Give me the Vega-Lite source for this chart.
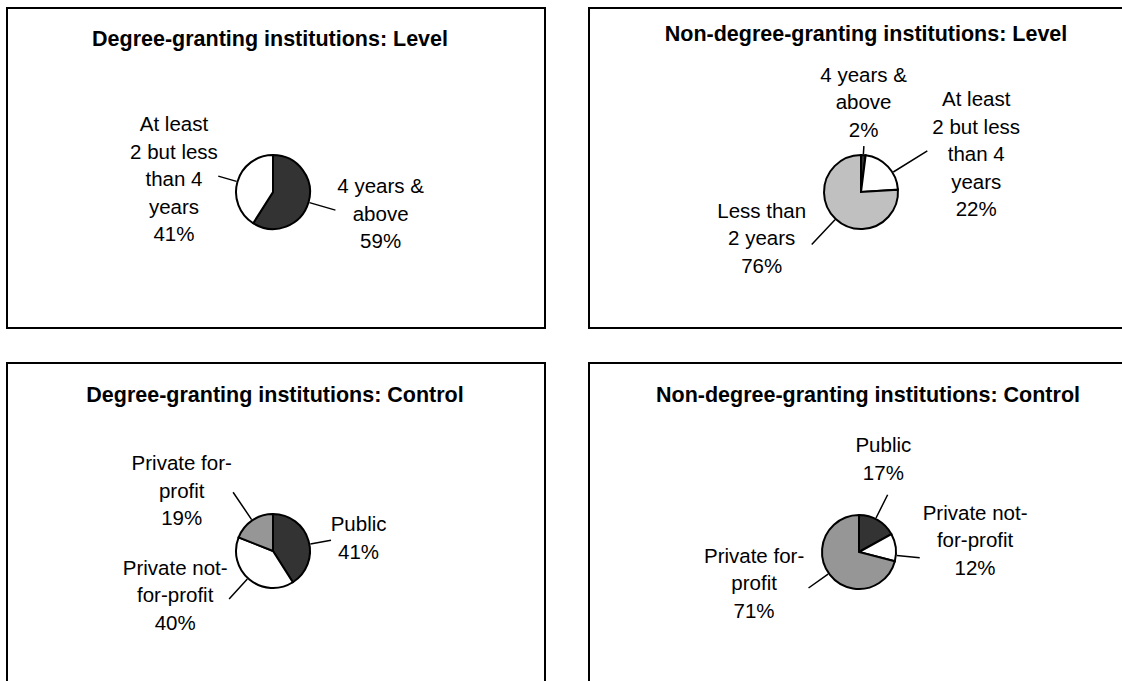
{
  "$schema": "https://vega.github.io/schema/vega-lite/v6.json",
  "usermeta": {"embedOptions": {"actions": false}},
  "background": "white",
  "padding": {"left": 6, "top": 7, "right": 0, "bottom": 0},
  "columns": 2,
  "spacing": {"row": 35, "column": 44},
  "bounds": "flush",
  "config": {
    "view": {"stroke": "black", "strokeWidth": 2},
    "style": {"view": {"stroke": "black", "strokeWidth": 2}},
    "font": "Liberation Sans",
    "text": {"font": "Liberation Sans", "fontSize": 20.5, "lineHeight": 27.5, "lineBreak": "\n", "align": "center", "baseline": "middle", "color": "black"},
    "title": {"font": "Liberation Sans", "fontSize": 21.5, "fontWeight": "bold", "color": "black", "anchor": "middle"}
  },
  "concat": [
    {
      "title": {"text": "Degree-granting institutions: Level", "offset": -42, "dx": -6},
      "width": 538, "height": 320,
      "view": {"stroke": "black", "strokeWidth": 2},
      "data": {"values": [
        {"cat": "4 years & above", "pct": 59, "order": 1, "label": "4 years &\nabove\n59%"},
        {"cat": "At least 2 but less than 4 years", "pct": 41, "order": 2, "label": "At least\n2 but less\nthan 4\nyears\n41%"}
      ]},
      "transform": [
        {"stack": "pct", "groupby": [], "sort": [{"field": "order", "order": "ascending"}], "as": ["s0", "s1"]},
        {"fold": ["s0", "s1"], "as": ["k", "v"]},
        {"aggregate": [{"op": "mean", "field": "v", "as": "mid"}], "groupby": ["cat", "pct", "order", "label"]}
      ],
      "layer": [
        {"mark": {"type": "arc", "outerRadius": 37, "stroke": "black", "strokeWidth": 2, "xOffset": -3, "yOffset": 24},
         "encoding": {
           "theta": {"field": "pct", "type": "quantitative", "stack": true, "scale": {"domain": [0, 100]}},
           "order": {"field": "order", "type": "quantitative"},
           "color": {"field": "cat", "type": "nominal", "legend": null, "scale": {"domain": ["4 years & above", "At least 2 but less than 4 years", "Less than 2 years", "Public", "Private not-for-profit", "Private for-profit"], "range": ["#333333", "#ffffff", "#c0c0c0", "#333333", "#ffffff", "#969696"]}}
         }},
        {"transform": [{"filter": "datum.order == 1"}],
         "layer": [
           {"mark": {"type": "arc", "innerRadius": 38, "outerRadius": 65, "filled": false, "stroke": "black", "strokeWidth": 1.5, "xOffset": -3, "yOffset": 24},
            "encoding": {"theta": {"field": "mid", "type": "quantitative", "stack": null}, "theta2": {"field": "mid"}}},
           {"mark": {"type": "text", "radius": 110, "dx": 2, "dy": -35.5, "xOffset": -3, "yOffset": 24},
            "encoding": {"theta": {"field": "mid", "type": "quantitative", "stack": null}, "text": {"field": "label", "type": "nominal"}}}
         ]},
        {"transform": [{"filter": "datum.order == 2"}],
         "layer": [
           {"mark": {"type": "arc", "innerRadius": 38, "outerRadius": 57, "filled": false, "stroke": "black", "strokeWidth": 1.5, "xOffset": -3, "yOffset": 24},
            "encoding": {"theta": {"field": "mid", "type": "quantitative", "stack": null}, "theta2": {"field": "mid"}}},
           {"mark": {"type": "text", "radius": 100, "dx": -3, "dy": -39, "xOffset": -3, "yOffset": 24},
            "encoding": {"theta": {"field": "mid", "type": "quantitative", "stack": null}, "text": {"field": "label", "type": "nominal"}}}
         ]}
      ]
    },
    {
      "title": {"text": "Non-degree-granting institutions: Level", "offset": -37, "dx": -3},
      "width": 560, "height": 320,
      "view": {"stroke": "black", "strokeWidth": 2},
      "data": {"values": [
        {"cat": "4 years & above", "pct": 2, "order": 1, "label": "4 years &\nabove\n2%"},
        {"cat": "At least 2 but less than 4 years", "pct": 22, "order": 2, "label": "At least\n2 but less\nthan 4\nyears\n22%"},
        {"cat": "Less than 2 years", "pct": 76, "order": 3, "label": "Less than\n2 years\n76%"}
      ]},
      "transform": [
        {"stack": "pct", "groupby": [], "sort": [{"field": "order", "order": "ascending"}], "as": ["s0", "s1"]},
        {"fold": ["s0", "s1"], "as": ["k", "v"]},
        {"aggregate": [{"op": "mean", "field": "v", "as": "mid"}], "groupby": ["cat", "pct", "order", "label"]}
      ],
      "layer": [
        {"mark": {"type": "arc", "outerRadius": 37, "stroke": "black", "strokeWidth": 2, "xOffset": -8, "yOffset": 24},
         "encoding": {
           "theta": {"field": "pct", "type": "quantitative", "stack": true, "scale": {"domain": [0, 100]}},
           "order": {"field": "order", "type": "quantitative"},
           "color": {"field": "cat", "type": "nominal", "legend": null, "scale": {"domain": ["4 years & above", "At least 2 but less than 4 years", "Less than 2 years", "Public", "Private not-for-profit", "Private for-profit"], "range": ["#333333", "#ffffff", "#c0c0c0", "#333333", "#ffffff", "#969696"]}}
         }},
        {"transform": [{"filter": "datum.order == 1"}],
         "layer": [
           {"mark": {"type": "arc", "innerRadius": 38, "outerRadius": 46, "filled": false, "stroke": "black", "strokeWidth": 1.5, "xOffset": -8, "yOffset": 24},
            "encoding": {"theta": {"field": "mid", "type": "quantitative", "stack": null}, "theta2": {"field": "mid"}}},
           {"mark": {"type": "text", "radius": 89, "dx": -3, "dy": -27.5, "xOffset": -8, "yOffset": 24},
            "encoding": {"theta": {"field": "mid", "type": "quantitative", "stack": null}, "text": {"field": "label", "type": "nominal"}}}
         ]},
        {"transform": [{"filter": "datum.order == 2"}],
         "layer": [
           {"mark": {"type": "arc", "innerRadius": 38, "outerRadius": 78, "filled": false, "stroke": "black", "strokeWidth": 1.5, "xOffset": -8, "yOffset": 24, "thetaOffset": 0.2, "theta2Offset": 0.2},
            "encoding": {"theta": {"field": "mid", "type": "quantitative", "stack": null}, "theta2": {"field": "mid"}}},
           {"mark": {"type": "text", "radius": 121, "dx": 27, "dy": -9, "xOffset": -8, "yOffset": 24},
            "encoding": {"theta": {"field": "mid", "type": "quantitative", "stack": null}, "text": {"field": "label", "type": "nominal"}}}
         ]},
        {"transform": [{"filter": "datum.order == 3"}],
         "layer": [
           {"mark": {"type": "arc", "innerRadius": 38, "outerRadius": 72, "filled": false, "stroke": "black", "strokeWidth": 1.5, "xOffset": -8, "yOffset": 24},
            "encoding": {"theta": {"field": "mid", "type": "quantitative", "stack": null}, "theta2": {"field": "mid"}}},
           {"mark": {"type": "text", "radius": 110, "dx": -24, "dy": -60.5, "xOffset": -8, "yOffset": 24},
            "encoding": {"theta": {"field": "mid", "type": "quantitative", "stack": null}, "text": {"field": "label", "type": "nominal"}}}
         ]}
      ]
    },
    {
      "title": {"text": "Degree-granting institutions: Control", "offset": -43, "dx": -1},
      "width": 538, "height": 320,
      "view": {"stroke": "black", "strokeWidth": 2},
      "data": {"values": [
        {"cat": "Public", "pct": 41, "order": 1, "label": "Public\n41%"},
        {"cat": "Private not-for-profit", "pct": 40, "order": 2, "label": "Private not-\nfor-profit\n40%"},
        {"cat": "Private for-profit", "pct": 19, "order": 3, "label": "Private for-\nprofit\n19%"}
      ]},
      "transform": [
        {"stack": "pct", "groupby": [], "sort": [{"field": "order", "order": "ascending"}], "as": ["s0", "s1"]},
        {"fold": ["s0", "s1"], "as": ["k", "v"]},
        {"aggregate": [{"op": "mean", "field": "v", "as": "mid"}], "groupby": ["cat", "pct", "order", "label"]}
      ],
      "layer": [
        {"mark": {"type": "arc", "outerRadius": 37, "stroke": "black", "strokeWidth": 2, "xOffset": -3, "yOffset": 28},
         "encoding": {
           "theta": {"field": "pct", "type": "quantitative", "stack": true, "scale": {"domain": [0, 100]}},
           "order": {"field": "order", "type": "quantitative"},
           "color": {"field": "cat", "type": "nominal", "legend": null, "scale": {"domain": ["4 years & above", "At least 2 but less than 4 years", "Less than 2 years", "Public", "Private not-for-profit", "Private for-profit"], "range": ["#333333", "#ffffff", "#c0c0c0", "#333333", "#ffffff", "#969696"]}}
         }},
        {"transform": [{"filter": "datum.order == 1"}],
         "layer": [
           {"mark": {"type": "arc", "innerRadius": 38, "outerRadius": 59, "filled": false, "stroke": "black", "strokeWidth": 1.5, "xOffset": -3, "yOffset": 28, "thetaOffset": 0.1, "theta2Offset": 0.1},
            "encoding": {"theta": {"field": "mid", "type": "quantitative", "stack": null}, "theta2": {"field": "mid"}}},
           {"mark": {"type": "text", "radius": 86, "dx": 3, "dy": -1.75, "xOffset": -3, "yOffset": 28},
            "encoding": {"theta": {"field": "mid", "type": "quantitative", "stack": null}, "text": {"field": "label", "type": "nominal"}}}
         ]},
        {"transform": [{"filter": "datum.order == 2"}],
         "layer": [
           {"mark": {"type": "arc", "innerRadius": 38, "outerRadius": 65, "filled": false, "stroke": "black", "strokeWidth": 1.5, "xOffset": -3, "yOffset": 28, "thetaOffset": 0.05, "theta2Offset": 0.05},
            "encoding": {"theta": {"field": "mid", "type": "quantitative", "stack": null}, "theta2": {"field": "mid"}}},
           {"mark": {"type": "text", "radius": 108, "dx": -29, "dy": -65.5, "xOffset": -3, "yOffset": 28},
            "encoding": {"theta": {"field": "mid", "type": "quantitative", "stack": null}, "text": {"field": "label", "type": "nominal"}}}
         ]},
        {"transform": [{"filter": "datum.order == 3"}],
         "layer": [
           {"mark": {"type": "arc", "innerRadius": 38, "outerRadius": 71, "filled": false, "stroke": "black", "strokeWidth": 1.5, "xOffset": -3, "yOffset": 28},
            "encoding": {"theta": {"field": "mid", "type": "quantitative", "stack": null}, "theta2": {"field": "mid"}}},
           {"mark": {"type": "text", "radius": 109, "dx": -30, "dy": 3.5, "xOffset": -3, "yOffset": 28},
            "encoding": {"theta": {"field": "mid", "type": "quantitative", "stack": null}, "text": {"field": "label", "type": "nominal"}}}
         ]}
      ]
    },
    {
      "title": {"text": "Non-degree-granting institutions: Control", "offset": -43, "dx": -1},
      "width": 560, "height": 320,
      "view": {"stroke": "black", "strokeWidth": 2},
      "data": {"values": [
        {"cat": "Public", "pct": 17, "order": 1, "label": "Public\n17%"},
        {"cat": "Private not-for-profit", "pct": 12, "order": 2, "label": "Private not-\nfor-profit\n12%"},
        {"cat": "Private for-profit", "pct": 71, "order": 3, "label": "Private for-\nprofit\n71%"}
      ]},
      "transform": [
        {"stack": "pct", "groupby": [], "sort": [{"field": "order", "order": "ascending"}], "as": ["s0", "s1"]},
        {"fold": ["s0", "s1"], "as": ["k", "v"]},
        {"aggregate": [{"op": "mean", "field": "v", "as": "mid"}], "groupby": ["cat", "pct", "order", "label"]}
      ],
      "layer": [
        {"mark": {"type": "arc", "outerRadius": 37, "stroke": "black", "strokeWidth": 2, "xOffset": -10, "yOffset": 29},
         "encoding": {
           "theta": {"field": "pct", "type": "quantitative", "stack": true, "scale": {"domain": [0, 100]}},
           "order": {"field": "order", "type": "quantitative"},
           "color": {"field": "cat", "type": "nominal", "legend": null, "scale": {"domain": ["4 years & above", "At least 2 but less than 4 years", "Less than 2 years", "Public", "Private not-for-profit", "Private for-profit"], "range": ["#333333", "#ffffff", "#c0c0c0", "#333333", "#ffffff", "#969696"]}}
         }},
        {"transform": [{"filter": "datum.order == 1"}],
         "layer": [
           {"mark": {"type": "arc", "innerRadius": 38, "outerRadius": 64, "filled": false, "stroke": "black", "strokeWidth": 1.5, "xOffset": -10, "yOffset": 29, "thetaOffset": -0.07, "theta2Offset": -0.07},
            "encoding": {"theta": {"field": "mid", "type": "quantitative", "stack": null}, "theta2": {"field": "mid"}}},
           {"mark": {"type": "text", "radius": 95, "dx": -24, "dy": -23.75, "xOffset": -10, "yOffset": 29},
            "encoding": {"theta": {"field": "mid", "type": "quantitative", "stack": null}, "text": {"field": "label", "type": "nominal"}}}
         ]},
        {"transform": [{"filter": "datum.order == 2"}],
         "layer": [
           {"mark": {"type": "arc", "innerRadius": 38, "outerRadius": 61, "filled": false, "stroke": "black", "strokeWidth": 1.5, "xOffset": -10, "yOffset": 29, "thetaOffset": 0.22, "theta2Offset": 0.22},
            "encoding": {"theta": {"field": "mid", "type": "quantitative", "stack": null}, "theta2": {"field": "mid"}}},
           {"mark": {"type": "text", "radius": 117, "dx": 0, "dy": -23.5, "xOffset": -10, "yOffset": 29},
            "encoding": {"theta": {"field": "mid", "type": "quantitative", "stack": null}, "text": {"field": "label", "type": "nominal"}}}
         ]},
        {"transform": [{"filter": "datum.order == 3"}],
         "layer": [
           {"mark": {"type": "arc", "innerRadius": 38, "outerRadius": 62, "filled": false, "stroke": "black", "strokeWidth": 1.5, "xOffset": -10, "yOffset": 29, "thetaOffset": 0.04, "theta2Offset": 0.04},
            "encoding": {"theta": {"field": "mid", "type": "quantitative", "stack": null}, "theta2": {"field": "mid"}}},
           {"mark": {"type": "text", "radius": 110, "dx": -18, "dy": -62.5, "xOffset": -10, "yOffset": 29},
            "encoding": {"theta": {"field": "mid", "type": "quantitative", "stack": null}, "text": {"field": "label", "type": "nominal"}}}
         ]}
      ]
    }
  ]
}
